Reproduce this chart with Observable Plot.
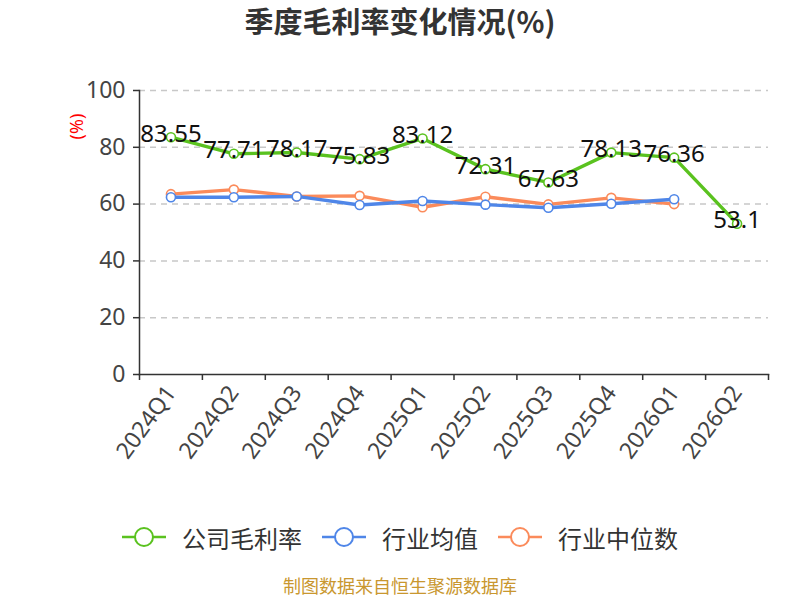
<!DOCTYPE html>
<html><head><meta charset="utf-8">
<script src="https://cdn.jsdelivr.net/npm/d3@7"></script>
<script src="https://cdn.jsdelivr.net/npm/@observablehq/plot@0.6"></script>
<style>
body{margin:0;width:800px;height:600px;background:#fff;font-family:"Noto Sans","Noto Sans CJK SC",sans-serif;overflow:hidden}
#title{height:50px;line-height:40px;text-align:center;font-size:29px;font-weight:bold;color:#333;font-family:"Noto Sans CJK SC",sans-serif}
#legend{height:54px;display:flex;justify-content:center;align-items:center;font-size:24px;color:#333;font-family:"Noto Sans CJK SC",sans-serif}
.item{display:flex;align-items:center;margin:0 10px}
.item svg{margin-right:16px}
#caption{height:36px;text-align:center;font-size:18px;color:#c9972f;font-family:"Noto Sans CJK SC",sans-serif;line-height:30px;padding-top:6px}
</style></head><body>
<div id="title">季度毛利率变化情况(%)</div>
<div id="chart"></div>
<div id="legend"></div>
<div id="caption">制图数据来自恒生聚源数据库</div>
<script>
const categories = ["2024Q1","2024Q2","2024Q3","2024Q4","2025Q1","2025Q2","2025Q3","2025Q4","2026Q1","2026Q2"];
const company = [83.55,77.71,78.17,75.83,83.12,72.31,67.63,78.13,76.36,53.1];
const industryMean = [62.4,62.4,62.7,59.7,61.1,59.8,58.7,60.1,61.7];
const industryMedian = [63.5,65.1,62.7,62.9,58.9,62.6,59.9,62.2,60.0];
const yTicks = [0,20,40,60,80,100];
const seriesNames = ["公司毛利率","行业均值","行业中位数"];
const colors = ["#5ac21f","#4f86e8","#fb8b5b"];

const toRows = vals => vals.map((v,i)=>({x:categories[i], y:v}));
const rows = [toRows(company), toRows(industryMean), toRows(industryMedian)];

const W = 800, H = 460, ml = 139, mr = 32;
const bw = (W - ml - mr) / categories.length;

const chart = Plot.plot({
  width: W, height: H,
  marginLeft: ml, marginRight: mr, marginTop: 40, marginBottom: 136,
  style: {fontFamily: '"Noto Sans","Noto Sans CJK SC",sans-serif', color: "#333", background: "#fff"},
  x: {type: "band", domain: categories, padding: 0, round: false},
  y: {domain: [0,100]},
  marks: [
    Plot.gridY(yTicks.filter(d=>d>0), {stroke:"#c8c8c8", strokeOpacity:1, strokeWidth:1.5, strokeDasharray:"6,5"}),
    Plot.axisY({ticks: yTicks, tickSize: 6, tickPadding: 8, fontSize: 23, fill:"#444", stroke:"#333", strokeWidth:1.5, label:null}),
    Plot.axisX({ticks: categories, text: null, tickSize: 6, dx: -bw/2, stroke:"#333", strokeWidth:1.5, label:null}),
    Plot.axisX({ticks: [categories[categories.length-1]], text: null, tickSize: 6, dx: bw/2, stroke:"#333", strokeWidth:1.5, label:null}),
    Plot.axisX({ticks: categories, tickSize: 0, tickPadding: 14, tickRotate: -54, fontSize: 23, fill:"#444", label:null}),
    Plot.frame({anchor:"left", stroke:"#333", strokeWidth:1.5}),
    Plot.frame({anchor:"bottom", stroke:"#333", strokeWidth:1.5}),
    Plot.text(["(%)"], {frameAnchor:"top-left", textAnchor:"middle", lineAnchor:"middle", dx:-62, dy:36, rotate:-90, fill:"red", fontSize:18, text:d=>d}),
    ...[2,1,0].flatMap(k => [
      Plot.line(rows[k], {x:"x", y:"y", stroke: colors[k], strokeWidth: 3.4}),
      Plot.dot(rows[k], {x:"x", y:"y", r: 4.5, fill:"#fff", stroke: colors[k], strokeWidth: 1.6})
    ]),
    Plot.text(rows[0], {x:"x", y:"y", text: d=>String(d.y), fontSize: 24, fill:"#111", dy: -3})
  ]
});
document.getElementById("chart").appendChild(chart);

const legend = document.getElementById("legend");
seriesNames.forEach((name,i)=>{
  const div = document.createElement("div");
  div.className = "item";
  div.innerHTML = `<svg width="44" height="24"><line x1="0" y1="12" x2="44" y2="12" stroke="${colors[i]}" stroke-width="2.5"/><circle cx="22" cy="12" r="9" fill="#fff" stroke="${colors[i]}" stroke-width="2"/></svg><span>${name}</span>`;
  legend.appendChild(div);
});
</script>
</body></html>
